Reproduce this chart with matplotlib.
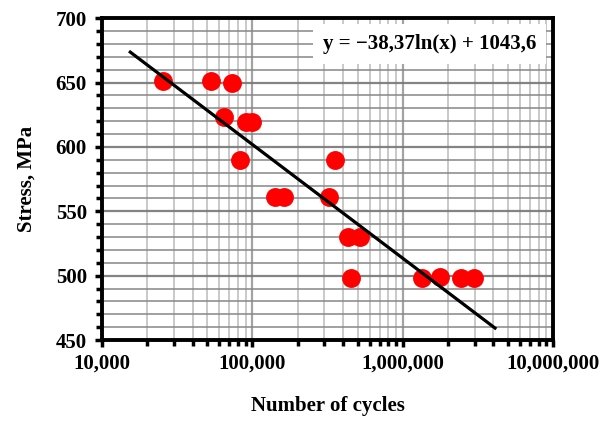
import numpy as np
import matplotlib
matplotlib.use("Agg")
import matplotlib.pyplot as plt
from matplotlib.ticker import LogLocator, FuncFormatter, MultipleLocator, NullFormatter

# cycles to failure and stress
cycles = [25500, 53000, 73500, 65000, 91000, 99000, 83000,
          142000, 162000, 325000, 355000, 435000, 520000, 455000,
          1340000, 1760000, 2420000, 2980000]
stress = [651, 651, 650, 623, 619, 619, 590,
          561, 561, 561, 590, 530, 530, 498,
          498, 499, 498, 498]

# logarithmic trendline
trend_a = -38.37
trend_b = 1043.6
trend_range = [15400, 4100000]
trend_label = "y = \u221238,37ln(x) + 1043,6"

plt.rcParams["font.family"] = ["Liberation Serif", "DejaVu Serif"]
plt.rcParams["font.weight"] = "bold"

fig = plt.figure(figsize=(6.04, 4.22), dpi=100)
ax = fig.add_axes([0.169, 0.194, 0.747, 0.763])

ax.set_xscale("log")
ax.set_xlim(1e4, 1e7)
ax.set_ylim(450, 700)

ax.xaxis.set_major_locator(LogLocator(base=10))
ax.xaxis.set_minor_locator(LogLocator(base=10, subs=np.arange(2, 10)))
ax.xaxis.set_major_formatter(FuncFormatter(lambda v, p: f"{int(round(v)):,}"))
ax.xaxis.set_minor_formatter(NullFormatter())
ax.yaxis.set_major_locator(MultipleLocator(50))
ax.yaxis.set_minor_locator(MultipleLocator(10))

ax.grid(True, which="major", axis="y", color="#777777", lw=1.6, alpha=0.9)
ax.grid(True, which="minor", axis="y", color="#888888", lw=1.4, alpha=0.8)
ax.grid(True, which="major", axis="x", color="#999999", lw=1.6, alpha=0.9)
ax.grid(True, which="minor", axis="x", color="#bbbbbb", lw=1.4, alpha=0.8)
ax.set_axisbelow(True)

for s in ax.spines.values():
    s.set_linewidth(2.8)

ax.tick_params(which="major", direction="out", length=5, width=2.5, labelsize=15, pad=6)
ax.tick_params(which="minor", direction="out", length=4, width=2.5)
ax.tick_params(axis="x", which="major", pad=5)

ax.scatter(cycles, stress, s=185, color="#ff0000", zorder=3, linewidths=0)

tx = np.array(trend_range, dtype=float)
ax.plot(tx, trend_a * np.log(tx) + trend_b, color="black", lw=2.3, zorder=4)

ax.text(0.962, 0.92, trend_label, transform=ax.transAxes, ha="right", va="center",
        fontsize=15, fontweight="bold", zorder=5,
        bbox=dict(facecolor="white", edgecolor="none", pad=7))

ax.set_xlabel("Number of cycles", fontsize=15, fontweight="bold", labelpad=16)
ax.set_ylabel("Stress, MPa", fontsize=15, fontweight="bold", labelpad=14)

fig.savefig("out.png", dpi=100)
